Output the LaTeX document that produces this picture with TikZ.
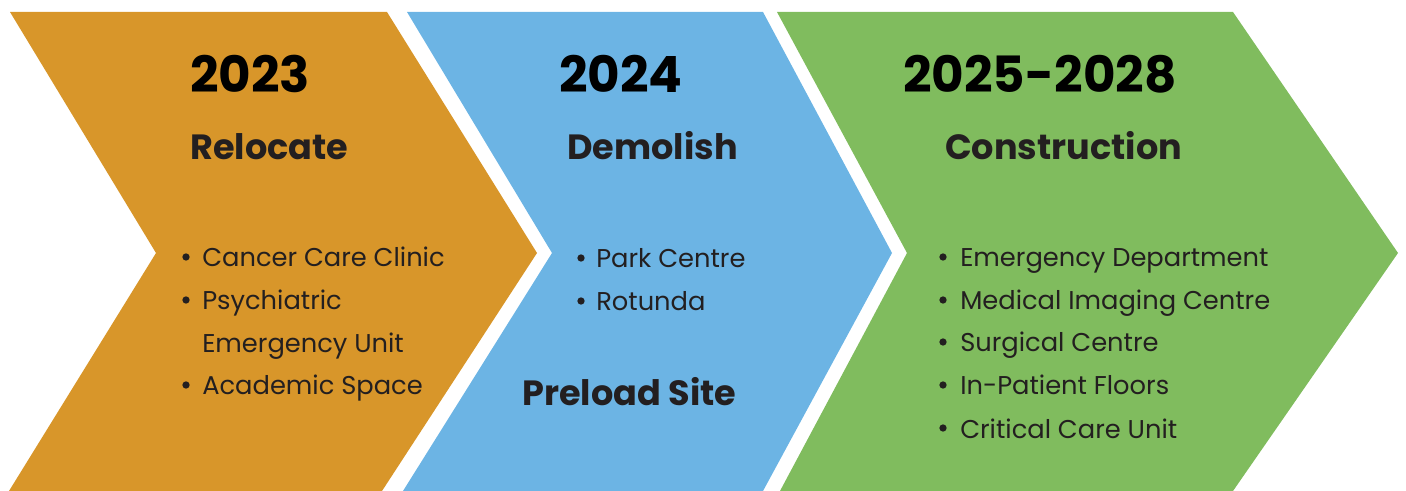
\documentclass[tikz,border=0pt]{standalone}
\usepackage{fontspec}
\setmainfont{Poppins}
\definecolor{phaseorange}{RGB}{216,150,42}
\definecolor{phaseblue}{RGB}{108,180,228}
\definecolor{phasegreen}{RGB}{128,188,94}
\definecolor{ink}{RGB}{35,31,32}
\tikzset{
  year/.style={anchor=base west,inner sep=0pt,font=\fontsize{37.5}{40}\selectfont\bfseries,text=black},
  phase/.style={anchor=base west,inner sep=0pt,font=\fontsize{26.3}{30}\selectfont\bfseries,text=ink},
  item/.style={anchor=base west,inner sep=0pt,font=\fontsize{19.3}{22}\selectfont,text=ink},
  dot/.style={circle,fill=ink,inner sep=0pt,minimum size=5.5pt}
}
\begin{document}
\begin{tikzpicture}[x=0.75pt,y=0.75pt,yscale=-1,xscale=1]
\useasboundingbox (0,0) rectangle (1406,491);

%Shape: Chevron 2023
\fill [phaseorange] (10,12) -- (387,12) -- (537,253) -- (382,491) -- (9,491) -- (156,253) -- cycle ;
%Shape: Chevron 2024
\fill [phaseblue] (407,12) -- (763,12) -- (892,253) -- (763,491) -- (403,491) -- (552,253) -- cycle ;
%Shape: Chevron 2025-2028
\fill [phasegreen] (777,12) -- (1233,12) -- (1398,253) -- (1233,491) -- (780,491) -- (907,253) -- cycle ;

% Text Node
\node (y1) [year] at (190,93) {2023};
\node (p1) [phase] at (190,160) {Relocate};
\node (a1) [item] at (202,267) {Cancer Care Clinic};
\node (a2) [item] at (202,310) {Psychiatric};
\node (a3) [item] at (202,353) {Emergency Unit};
\node (a4) [item] at (202,395) {Academic Space};
\node [dot] at (186,257) {};
\node [dot] at (186,300) {};
\node [dot] at (186,385) {};

% Text Node
\node (y2) [year] at (559,93) {2024};
\node (p2) [phase] at (567,160) {Demolish};
\node (b1) [item] at (596,268) {Park Centre};
\node (b2) [item] at (596,311) {Rotunda};
\node [dot] at (581,258) {};
\node [dot] at (581,301) {};
\node (p3) [phase] at (522,406) {Preload Site};

% Text Node
\node (y3) [year] at (903,93) {2025-2028};
\node (p4) [phase] at (945,160) {Construction};
\node (c1) [item] at (960,267) {Emergency Department};
\node (c2) [item] at (960,310) {Medical Imaging Centre};
\node (c3) [item] at (960,352) {Surgical Centre};
\node (c4) [item] at (960,395) {In-Patient Floors};
\node (c5) [item] at (960,438) {Critical Care Unit};
\foreach \yy in {257,300,342,385,428}
  \node [dot] at (943,\yy) {};

\end{tikzpicture}
\end{document}
